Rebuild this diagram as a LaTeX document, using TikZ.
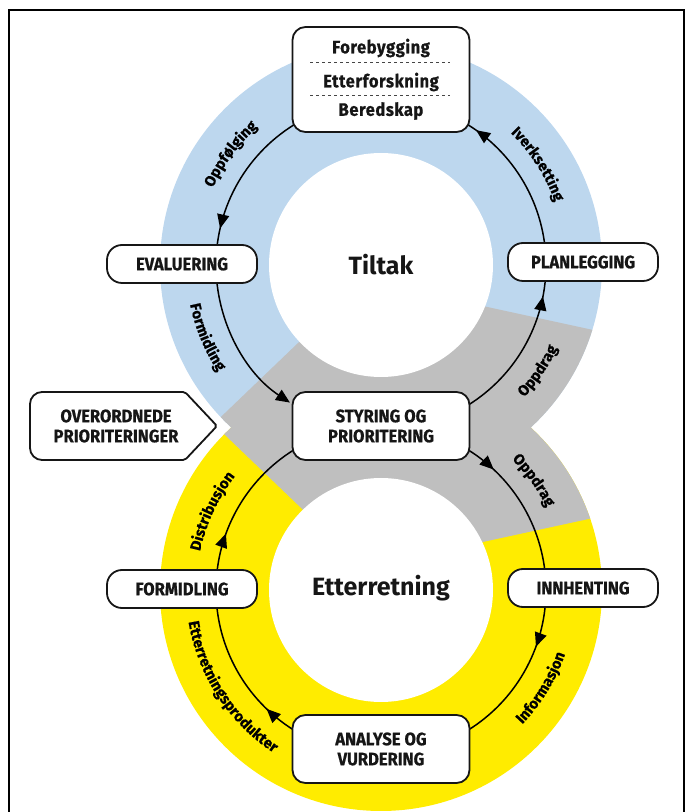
\documentclass[tikz,border=0pt]{standalone}
\usepackage{fontspec}
\setmainfont{Fira Sans}
\newfontfamily\boxfont{Fira Sans}[FakeStretch=0.92, BoldFeatures={FakeBold=0.6}]
\newfontfamily\topfont{Fira Sans}[FakeStretch=0.92, LetterSpace=3, BoldFeatures={FakeBold=0.6}]
\newfontfamily\lblfont{Fira Sans}[BoldFeatures={FakeBold=0.5}]
\usetikzlibrary{arrows.meta,decorations.markings,decorations.text,calc}

\definecolor{ringblue}{RGB}{189,215,238}
\definecolor{ringgray}{RGB}{191,191,191}
\definecolor{ringyellow}{RGB}{255,236,0}
\definecolor{inkdark}{RGB}{22,22,22}

\tikzset{
  box/.style={draw=inkdark, line width=1.8pt, fill=white, align=center,
    text=inkdark, inner sep=0pt},
  boxtext/.style={align=center, text=inkdark, inner sep=0pt,
    font=\boxfont\bfseries\fontsize{18}{20}\selectfont},
  pill/.style={box, boxtext, rounded corners=15pt, minimum width=150pt, minimum height=38pt},
  bigbox/.style={box, boxtext, rounded corners=13pt, minimum width=177pt, minimum height=68pt},
  topbox/.style={box, rounded corners=13pt, minimum width=177pt, minimum height=105pt},
  toptext/.style={text=inkdark, inner sep=0pt, font=\topfont\bfseries\fontsize{18}{20}\selectfont},
  sepline/.style={draw=inkdark!80, line width=1pt, dash pattern=on 3pt off 3pt},
  header/.style={inner sep=0pt, text=inkdark, font=\bfseries\fontsize{25}{30}\selectfont},
  flow/.style={draw=black, line width=1.5pt},
  midarrow/.style={postaction={decorate, decoration={markings,
    mark=at position #1 with {\arrow{Triangle[length=14pt,width=12pt]}}}}},
  endarrow/.style={-{Triangle[length=14pt,width=12pt]}},
  arclabel/.style={decorate, decoration={text along path, text align=center,
    text={|\lblfont\bfseries\fontsize{15}{18}\selectfont|#1}}},
}

\begin{document}
\begin{tikzpicture}[x=1pt,y=1pt]
\useasboundingbox (0,0) rectangle (694,812);

% ring centres
\coordinate (T) at (381,547);
\coordinate (B) at (381,222);

% coloured rings
\fill[ringblue] (T) circle[radius=221];
\fill[ringyellow] (B) circle[radius=221];
\begin{scope}
  \clip (T) circle[radius=221];
  \fill[ringgray] (188.5,364) -- (346,515) -- (423,519) -- (646,470.5)
    -- (646,322) -- (188,322) -- cycle;
\end{scope}
\begin{scope}
  \clip (B) circle[radius=221];
  \fill[ringgray] (188.5,412) -- (346,261) -- (423,257) -- (646,305.5)
    -- (646,454) -- (188,454) -- cycle;
\end{scope}
\fill[white] (T) circle[radius=112];
\fill[white] (B) circle[radius=112];

% frame
\draw[line width=2pt] (9,0) -- (9,802) -- (684,802) -- (684,0);

% upper cycle
\draw[flow, midarrow=0.82] ($(T)+(118:165)$) arc[start angle=118, end angle=178, radius=165];
\draw[flow, endarrow] ($(T)+(182:165)$) arc[start angle=182, end angle=236.5, radius=165];
\draw[flow, midarrow=0.86] ($(T)+(-60:165)$) arc[start angle=-60, end angle=-3, radius=165];
\draw[flow, midarrow=0.88] ($(T)+(2:165)$) arc[start angle=2, end angle=62, radius=165];

% lower cycle
\draw[flow, midarrow=0.23] ($(B)+(60:165)$) arc[start angle=60, end angle=3, radius=165];
\draw[flow, midarrow=0.30] ($(B)+(-3:165)$) arc[start angle=-3, end angle=-60, radius=165];
\draw[flow, midarrow=0.24] ($(B)+(240:165)$) arc[start angle=240, end angle=182, radius=165];
\draw[flow, midarrow=0.31] ($(B)+(178:165)$) arc[start angle=178, end angle=120, radius=165];

% labels along the arcs
\path[arclabel={Oppfølging}] ($(T)+(183.6:185)$) arc[start angle=183.6, end angle=103.6, radius=185];
\path[arclabel={Formidling}] ($(T)+(162.5:195)$) arc[start angle=162.5, end angle=242.5, radius=195];
\path[arclabel={Iverksetting}] ($(T)+(72.7:185)$) arc[start angle=72.7, end angle=-7.3, radius=185];
\path[arclabel={Oppdrag}] ($(T)+(-74:195)$) arc[start angle=-74, end angle=6, radius=195];
\path[arclabel={Oppdrag}] ($(B)+(75.7:185)$) arc[start angle=75.7, end angle=-4.3, radius=185];
\path[arclabel={Informasjon}] ($(B)+(-71.4:195)$) arc[start angle=-71.4, end angle=8.6, radius=195];
\path[arclabel={Etterretningsprodukter}] ($(B)+(168:195)$) arc[start angle=168, end angle=258, radius=195];
\path[arclabel={Distribusjon}] ($(B)+(195:185)$) arc[start angle=195, end angle=115, radius=185];

% centre titles
\node[header] (tiltak) at (381,547) {Tiltak};
\node[header] (etterretning) at (381,224) {Etterretning};

% top box with three measures
\node[topbox] (tb) at (381,732.5) {};
\node[toptext] (fore) at (381,764) {Forebygging};
\node[toptext] (etf) at (381,730) {Etterforskning};
\node[toptext] (bered) at (381,701) {Beredskap};
\draw[sepline] (310,749) -- (450,749);
\draw[sepline] (310,716) -- (450,716);

% process steps
\node[pill] (eval) at (182,548) {EVALUERING};
\node[pill] (plan) at (583,550) {PLANLEGGING};
\node[bigbox] (styr) at (381,386) {STYRING OG\\PRIORITERING};
\node[pill] (formid) at (182,223) {FORMIDLING};
\node[pill] (innh) at (583,224) {INNHENTING};
\node[bigbox] (anal) at (381,63) {ANALYSE OG\\VURDERING};

% input arrow on the left
\draw[box] (30,386) [rounded corners=12pt] -- (30,420) [rounded corners=2pt] -- (185,420)
  -- (217,386) -- (185,352) [rounded corners=12pt] -- (30,352) -- cycle;
\node[boxtext] (ovr) at (116,386) {OVERORDNEDE\\PRIORITERINGER};
\end{tikzpicture}
\end{document}
